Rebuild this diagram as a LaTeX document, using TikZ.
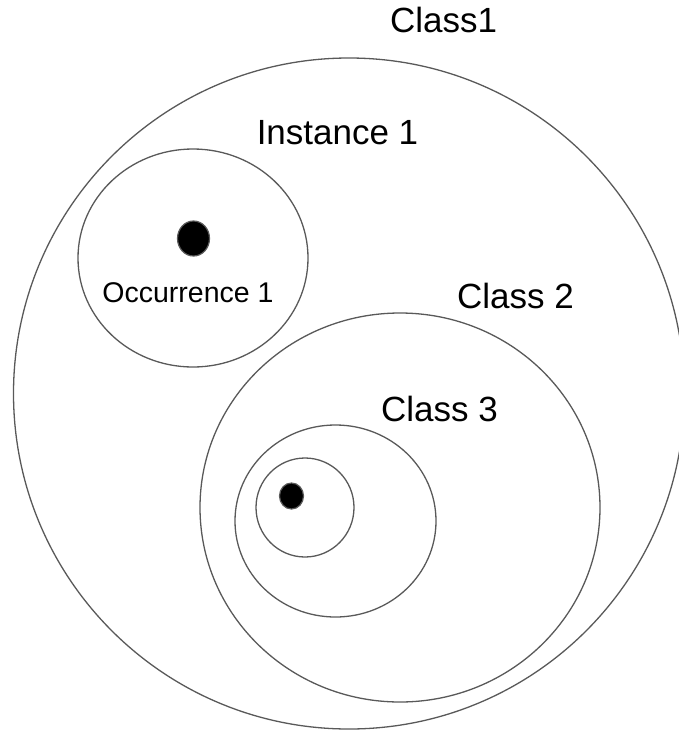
\documentclass[tikz,border=0pt]{standalone}
\usepackage{fontspec}
\setmainfont{Liberation Sans}
\usetikzlibrary{shapes.geometric}
\definecolor{edge}{HTML}{595959}
\tikzset{
  ring/.style={ellipse, draw=edge, line width=1.3pt, inner sep=0pt},
  dotmark/.style={ellipse, draw=edge, line width=1.2pt, fill=black, inner sep=0pt},
  biglabel/.style={font=\fontsize{35}{40}\selectfont, inner sep=0pt, anchor=base},
  smalllabel/.style={font=\fontsize{28.5}{33}\selectfont, inner sep=0pt, anchor=base}
}
\begin{document}
\begin{tikzpicture}[x=1pt, y=-1pt]
\useasboundingbox (0,0) rectangle (679,732);
\begin{scope}
\clip (0,0) rectangle (679,732);
% circles
\node[ring, minimum width=671pt, minimum height=671pt] (class1) at (349,393.5) {};
\node[ring, minimum width=230pt, minimum height=218pt] (inst1) at (193,258) {};
\node[ring, minimum width=400pt, minimum height=389pt] (class2) at (400,507.5) {};
\node[ring, minimum width=201pt, minimum height=192pt] (class3) at (335.5,521) {};
\node[ring, minimum width=98pt, minimum height=99pt] (inner) at (305,507.5) {};
% dots
\node[dotmark, minimum width=32pt, minimum height=35pt] (dot1) at (193.5,238.5) {};
\node[dotmark, minimum width=24pt, minimum height=26pt] (dot2) at (291.5,496) {};
\end{scope}
% labels
\node[biglabel] (lclass1) at (443.5,32) {Class1};
\node[biglabel] (linst1) at (337.5,144) {Instance 1};
\node[biglabel] (lclass2) at (515.5,308) {Class 2};
\node[biglabel] (lclass3) at (439.5,421) {Class 3};
\node[smalllabel] (locc1) at (188,302) {Occurrence 1};
\end{tikzpicture}
\end{document}
